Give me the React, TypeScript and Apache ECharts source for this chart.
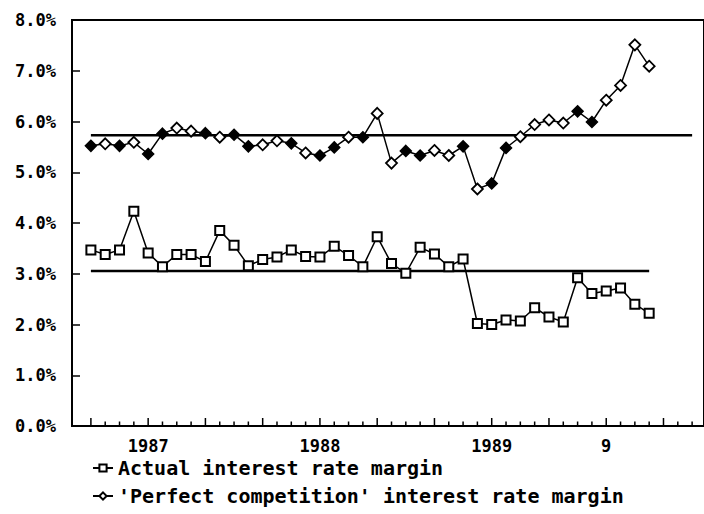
import React, { useEffect, useRef } from "react";
import * as echarts from "echarts";

// Monthly observations (index 0 = first month plotted)
const actualMargin = [
  3.47, 3.38, 3.47, 4.23, 3.41, 3.14, 3.38, 3.38, 3.24, 3.85,
  3.56, 3.16, 3.28, 3.33, 3.47, 3.34, 3.33, 3.54, 3.36, 3.14,
  3.73, 3.20, 3.01, 3.52, 3.39, 3.14, 3.29, 2.02, 2.00, 2.09,
  2.07, 2.33, 2.15, 2.05, 2.92, 2.61, 2.66, 2.72, 2.40, 2.22,
];
const perfectMargin = [
  5.52, 5.56, 5.52, 5.59, 5.36, 5.76, 5.87, 5.81, 5.77, 5.69,
  5.74, 5.51, 5.54, 5.62, 5.57, 5.38, 5.33, 5.49, 5.69, 5.69,
  6.16, 5.18, 5.42, 5.33, 5.43, 5.33, 5.51, 4.67, 4.78, 5.48,
  5.70, 5.94, 6.03, 5.97, 6.20, 5.99, 6.42, 6.71, 7.51, 7.09,
];
// which diamonds print solid in the source
const perfectSolid = [
  1, 0, 1, 0, 1, 1, 0, 0, 1, 0,
  1, 1, 0, 0, 1, 0, 1, 1, 0, 1,
  0, 0, 1, 1, 0, 0, 1, 0, 1, 1,
  0, 0, 0, 0, 1, 1, 0, 0, 0, 0,
];
// average reference lines: [value, first month, last month]
const perfectAverage = [5.73, 0, 42];
const actualAverage = [3.055, 0, 39];

const xTickCount = 43; // month ticks 0..42
const xLabelMonths = [4, 16, 28, 36];
const xLabelTexts = ["1987", "1988", "1989", "9"];
const yTicks = [0, 1, 2, 3, 4, 5, 6, 7, 8];

const seriesNames = [
  "Actual interest rate margin",
  "'Perfect competition' interest rate margin",
];

const FONT = "'DejaVu Sans Mono', monospace";

export default function App() {
  const ref = useRef<HTMLDivElement>(null);

  useEffect(() => {
    if (!ref.current) return;
    const chart = echarts.init(ref.current, null, { renderer: "svg" });

    const monthTicks = Array.from({ length: xTickCount }, (_, i) => i);

    const xMin = -1.32;
    const xMax = 42.83;

    chart.setOption({
      animation: false,
      backgroundColor: "#fff",
      grid: {
        left: 72,
        right: -2,
        top: 20,
        bottom: 88,
        show: true,
        borderColor: "#000",
        borderWidth: 2,
        backgroundColor: "transparent",
      },
      legend: {
        orient: "vertical",
        left: 92,
        top: 458,
        padding: 0,
        itemGap: 8,
        itemWidth: 20,
        itemHeight: 9,
        data: seriesNames,
        textStyle: { fontFamily: FONT, fontSize: 20, color: "#000", fontWeight: "bold" },
      },
      xAxis: {
        type: "value",
        min: xMin,
        max: xMax,
        position: "bottom",
        splitLine: { show: false },
        axisLine: { show: true, onZero: false, lineStyle: { color: "#000", width: 2 } },
        axisTick: { show: false },
        axisLabel: {
          show: true,
          customValues: xLabelMonths,
          margin: 11,
          fontFamily: FONT,
          fontSize: 17,
          fontWeight: "bold",
          color: "#000",
          formatter: (v: number) => {
            const k = xLabelMonths.indexOf(Math.round(v));
            return k >= 0 ? xLabelTexts[k] : "";
          },
        },
      },
      yAxis: {
        type: "value",
        min: 0,
        max: 8,
        interval: 1,
        splitLine: { show: false },
        axisLine: { show: true, onZero: false, lineStyle: { color: "#000", width: 2 } },
        axisTick: {
          show: true,
          inside: true,
          length: 8,
          lineStyle: { color: "#000", width: 1.5 },
        },
        axisLabel: {
          margin: 16,
          fontFamily: FONT,
          fontSize: 17,
          fontWeight: "bold",
          color: "#000",
          formatter: (v: number) => (yTicks.includes(v) ? v.toFixed(1) + "%" : ""),
        },
      },
      series: [
        {
          name: "monthTicks",
          type: "custom",
          silent: true,
          clip: false,
          data: monthTicks.map((m) => [m, 0]),
          renderItem: (_params: any, api: any) => {
            const m = api.value(0);
            const p = api.coord([m, 0]);
            const len = m % 4 === 0 ? 7 : 3.5;
            return {
              type: "line",
              shape: { x1: p[0], y1: p[1] - 1, x2: p[0], y2: p[1] - 1 - len },
              style: { stroke: "#000", lineWidth: 1.5 },
            };
          },
          z: 2,
        },
        {
          name: seriesNames[0],
          type: "line",
          data: actualMargin.map((v, i) => [i, v]),
          symbol: "rect",
          symbolSize: 9,
          showAllSymbol: true,
          lineStyle: { color: "#000", width: 1.5 },
          itemStyle: { color: "#fff", borderColor: "#000", borderWidth: 2 },
          z: 5,
        },
        {
          name: seriesNames[1],
          type: "line",
          data: perfectMargin.map((v, i) => ({
            value: [i, v],
            itemStyle: perfectSolid[i]
              ? { color: "#000", borderColor: "#000", borderWidth: 1.5 }
              : undefined,
          })),
          symbol: "diamond",
          symbolSize: 11,
          showAllSymbol: true,
          lineStyle: { color: "#000", width: 1.5 },
          itemStyle: { color: "#fff", borderColor: "#000", borderWidth: 1.8 },
          z: 5,
        },
        {
          name: "perfectAvg",
          type: "line",
          data: [
            [perfectAverage[1], perfectAverage[0]],
            [perfectAverage[2], perfectAverage[0]],
          ],
          symbol: "none",
          lineStyle: { color: "#000", width: 2.5 },
          z: 3,
        },
        {
          name: "actualAvg",
          type: "line",
          data: [
            [actualAverage[1], actualAverage[0]],
            [actualAverage[2], actualAverage[0]],
          ],
          symbol: "none",
          lineStyle: { color: "#000", width: 2.5 },
          z: 3,
        },
      ],
    });

    return () => chart.dispose();
  }, []);

  return (
    <div
      ref={ref}
      style={{ position: "fixed", left: 0, top: 0, width: 704, height: 514, background: "#fff" }}
    />
  );
}
